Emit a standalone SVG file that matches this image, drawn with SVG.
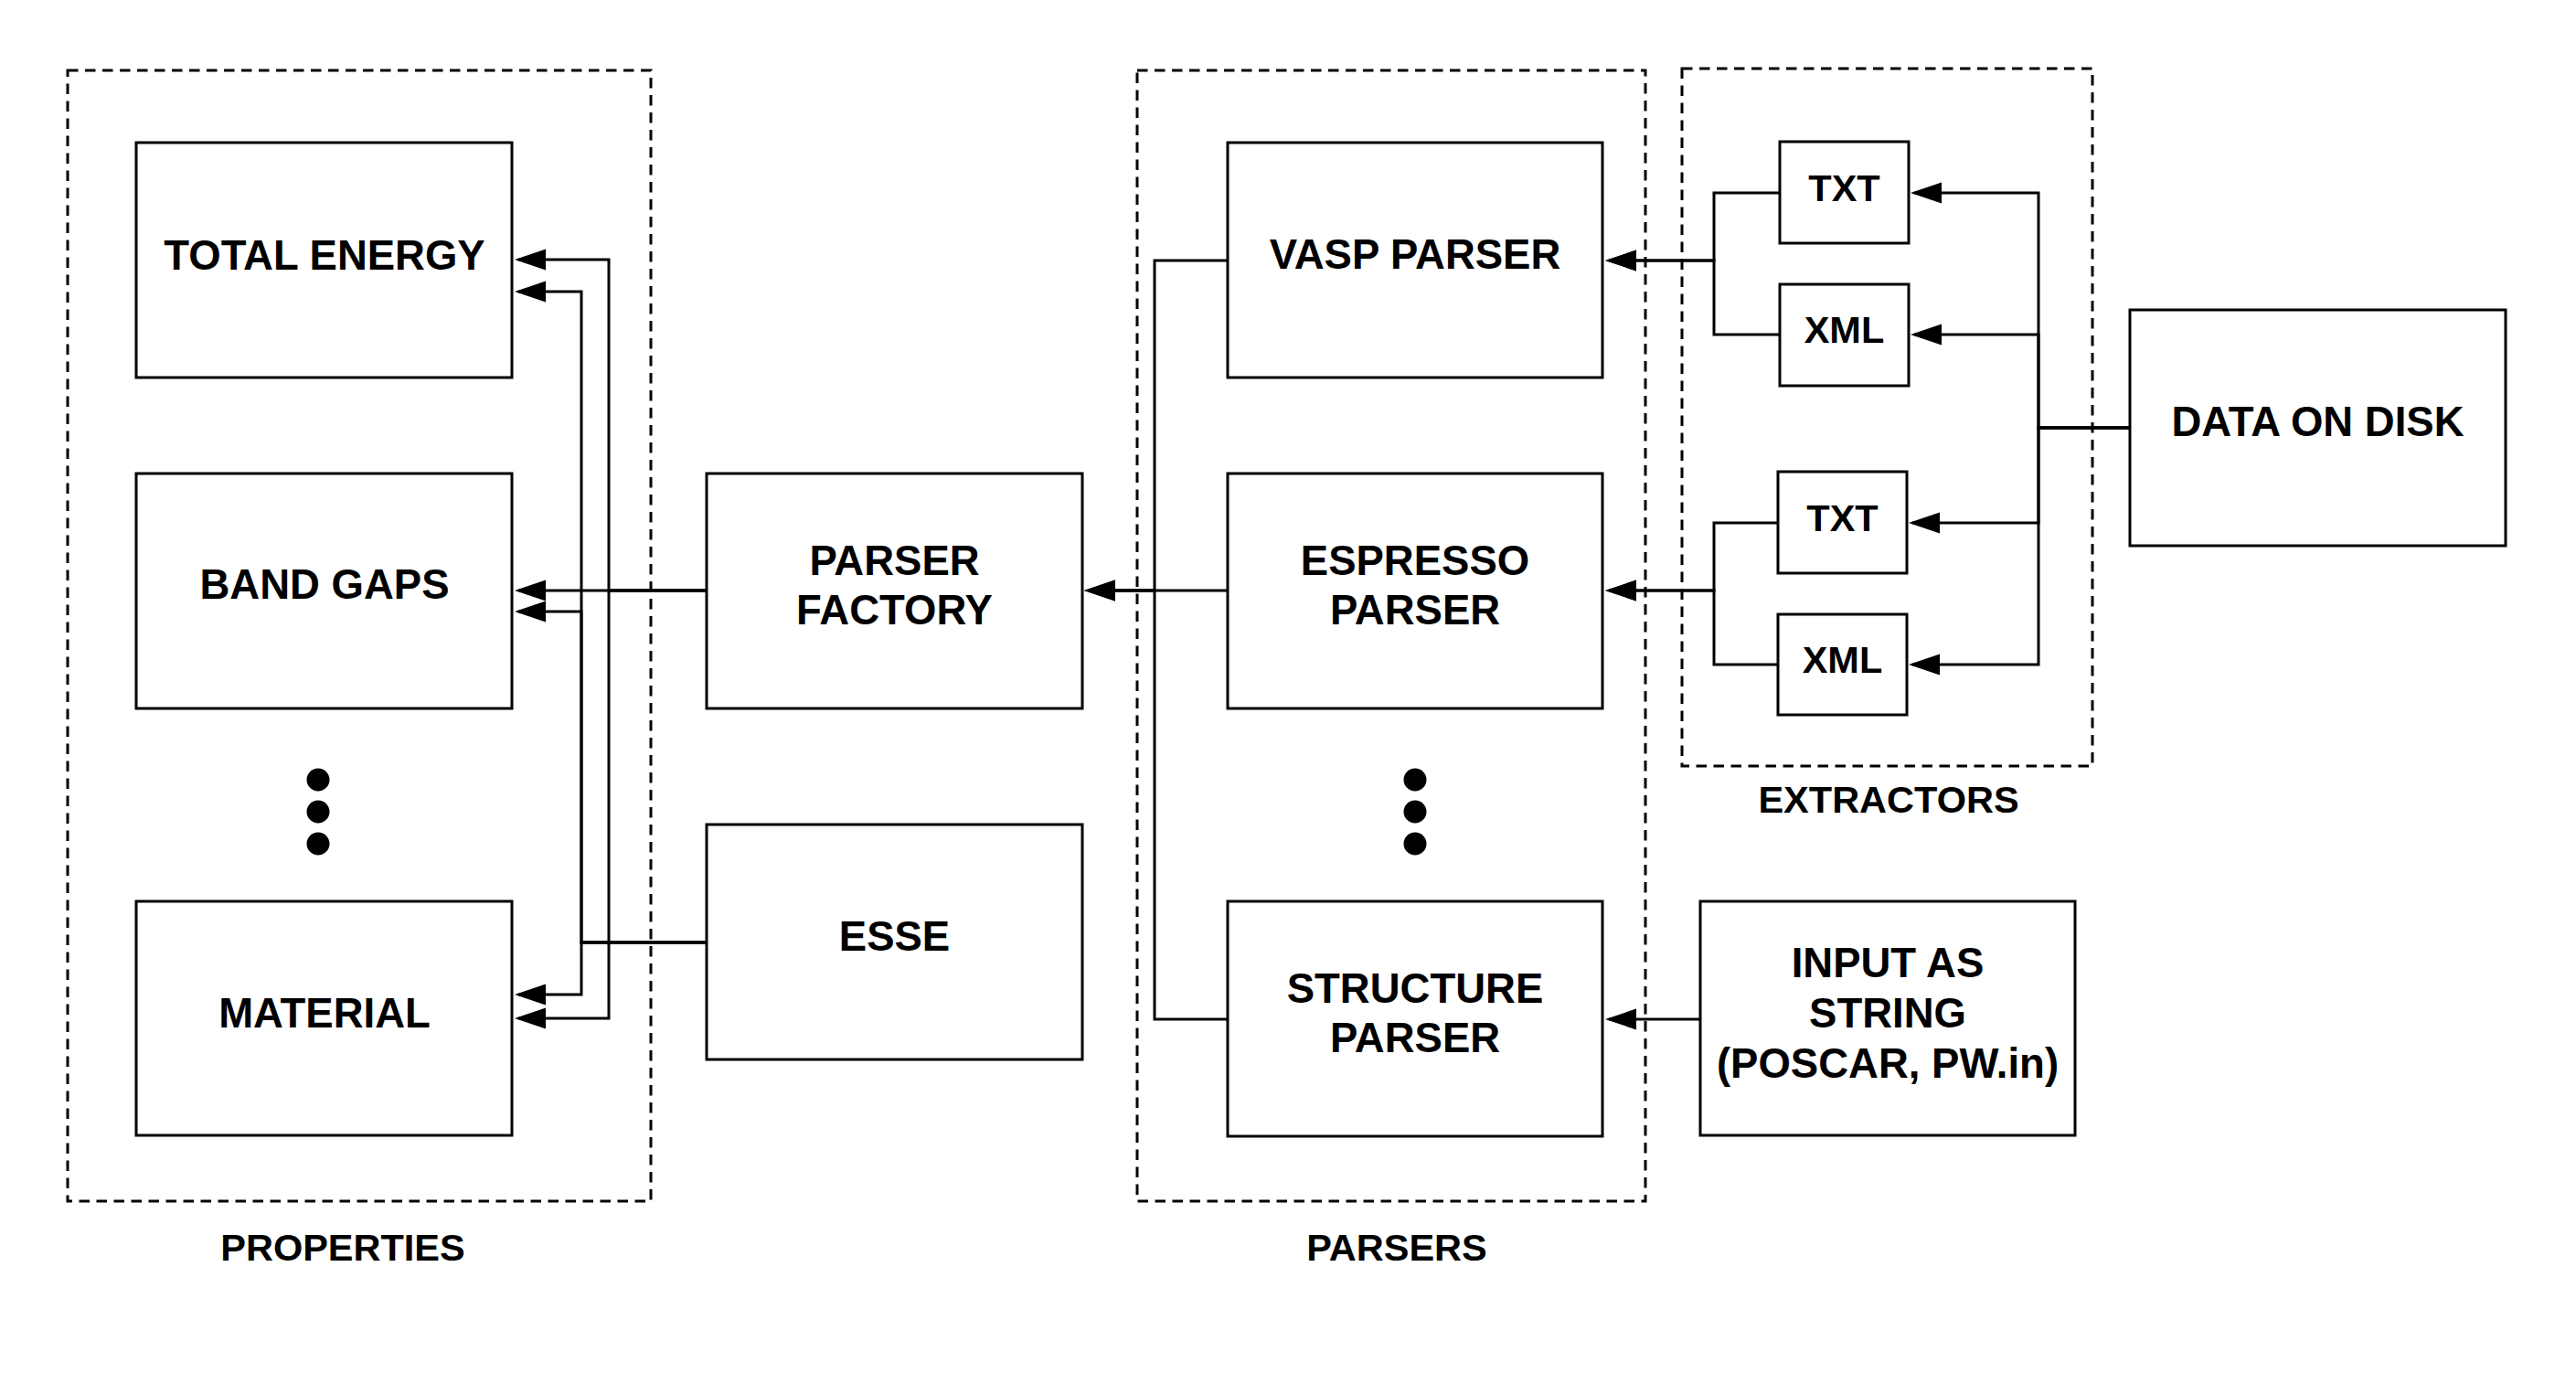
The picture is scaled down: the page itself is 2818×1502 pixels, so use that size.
<svg xmlns="http://www.w3.org/2000/svg" width="2818" height="1502" viewBox="0 0 2818 1502">
<style>
.box{fill:#fff;stroke:#000;stroke-width:3}
.grp{fill:none;stroke:#000;stroke-width:3;stroke-dasharray:11.5 7.5}
.t{font-family:"Liberation Sans",Arial,Helvetica,sans-serif;font-weight:bold;font-size:45.5px;text-anchor:middle;fill:#000}
.s{font-size:41.5px}
.c{fill:none;stroke:#000;stroke-width:3;marker-end:url(#arr)}
.dot{fill:#000}
</style>
<defs>
<marker id="arr" markerUnits="userSpaceOnUse" markerWidth="34" markerHeight="24" refX="30" refY="12" orient="auto"><path d="M0,0.5 L34,12 L0,23.5 z" fill="#000"/></marker>
</defs>
<rect x="0" y="0" width="2818" height="1502" fill="#fff"/>

<g id="properties">
<rect class="grp" x="74" y="77" width="638" height="1237"/>
<text class="t s" x="375" y="1379">PROPERTIES</text>
</g>
<g id="parsers">
<rect class="grp" x="1244" y="77" width="556" height="1237"/>
<text class="t s" x="1528" y="1379">PARSERS</text>
</g>
<g id="extractors">
<rect class="grp" x="1840" y="75" width="449" height="763"/>
<text class="t s" x="2066" y="889">EXTRACTORS</text>
</g>

<g id="connectors">
<path class="c" d="M773,646 H666 V284 H567"/>
<path class="c" d="M773,646 H567"/>
<path class="c" d="M773,646 H666 V1114 H567"/>
<path class="c" d="M773,1031 H636 V319 H567"/>
<path class="c" d="M773,1031 H636 V669 H567"/>
<path class="c" d="M773,1031 H636 V1088 H567"/>
<path class="c" d="M1343,285 H1263 V646 H1190"/>
<path class="c" d="M1343,646 H1190"/>
<path class="c" d="M1343,1115 H1263 V646 H1190"/>
<path class="c" d="M1947,211 H1875 V285 H1760"/>
<path class="c" d="M1947,366 H1875 V285 H1760"/>
<path class="c" d="M1945,572 H1875 V646 H1760"/>
<path class="c" d="M1945,727 H1875 V646 H1760"/>
<path class="c" d="M2330,468 H2230 V211 H2094"/>
<path class="c" d="M2330,468 H2230 V366 H2094"/>
<path class="c" d="M2330,468 H2230 V572 H2092"/>
<path class="c" d="M2330,468 H2230 V727 H2092"/>
<path class="c" d="M1860,1115 H1760"/>
</g>

<g id="total-energy"><rect class="box" x="149" y="156" width="411" height="257"/><text class="t" x="355" y="295">TOTAL ENERGY</text></g>
<g id="band-gaps"><rect class="box" x="149" y="518" width="411" height="257"/><text class="t" x="355" y="655">BAND GAPS</text></g>
<g id="properties-more"><circle class="dot" cx="348" cy="853" r="12.5"/><circle class="dot" cx="348" cy="888" r="12.5"/><circle class="dot" cx="348" cy="923" r="12.5"/></g>
<g id="material"><rect class="box" x="149" y="986" width="411" height="256"/><text class="t" x="355" y="1124">MATERIAL</text></g>

<g id="parser-factory"><rect class="box" x="773" y="518" width="411" height="257"/><text class="t" x="978.5" y="629">PARSER</text><text class="t" x="978.5" y="683">FACTORY</text></g>
<g id="esse"><rect class="box" x="773" y="902" width="411" height="257"/><text class="t" x="978.5" y="1040">ESSE</text></g>

<g id="vasp-parser"><rect class="box" x="1343" y="156" width="410" height="257"/><text class="t" x="1548" y="294">VASP PARSER</text></g>
<g id="espresso-parser"><rect class="box" x="1343" y="518" width="410" height="257"/><text class="t" x="1548" y="629">ESPRESSO</text><text class="t" x="1548" y="683">PARSER</text></g>
<g id="parsers-more"><circle class="dot" cx="1548" cy="853" r="12.5"/><circle class="dot" cx="1548" cy="888" r="12.5"/><circle class="dot" cx="1548" cy="923" r="12.5"/></g>
<g id="structure-parser"><rect class="box" x="1343" y="986" width="410" height="257"/><text class="t" x="1548" y="1097">STRUCTURE</text><text class="t" x="1548" y="1151">PARSER</text></g>

<g id="txt-1"><rect class="box" x="1947" y="155" width="141" height="111"/><text class="t s" x="2017.5" y="220">TXT</text></g>
<g id="xml-1"><rect class="box" x="1947" y="311" width="141" height="111"/><text class="t s" x="2017.5" y="375">XML</text></g>
<g id="txt-2"><rect class="box" x="1945" y="516" width="141" height="111"/><text class="t s" x="2015.5" y="581">TXT</text></g>
<g id="xml-2"><rect class="box" x="1945" y="672" width="141" height="110"/><text class="t s" x="2015.5" y="736">XML</text></g>

<g id="data-on-disk"><rect class="box" x="2330" y="339" width="411" height="258"/><text class="t" x="2535.5" y="477">DATA ON DISK</text></g>
<g id="input-as-string"><rect class="box" x="1860" y="986" width="410" height="256"/><text class="t" x="2065" y="1069">INPUT AS</text><text class="t" x="2065" y="1124">STRING</text><text class="t" x="2065" y="1179">(POSCAR, PW.in)</text></g>
</svg>
